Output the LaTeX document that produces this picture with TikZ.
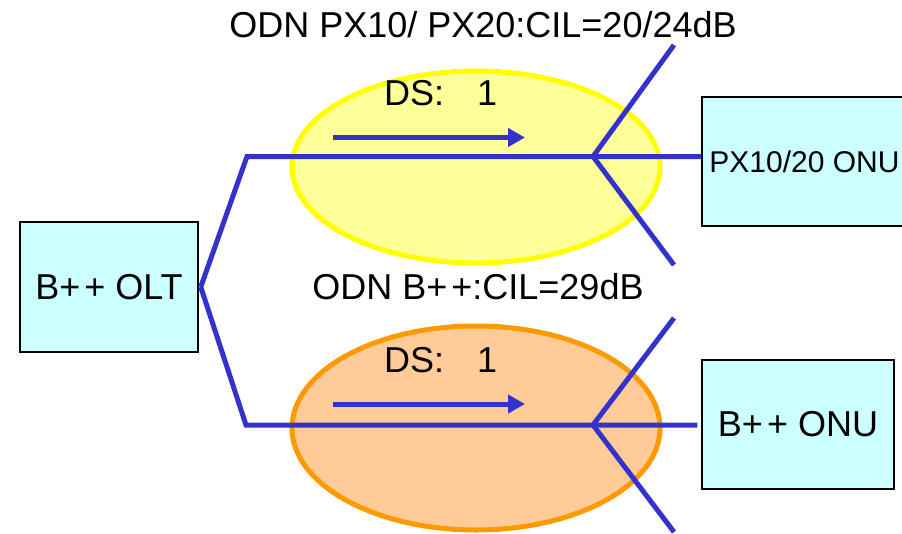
\documentclass[tikz,border=0pt]{standalone}
\usepackage{fontspec}
\setmainfont{Liberation Sans}
\usetikzlibrary{arrows.meta,calc}
\definecolor{boxfill}{HTML}{CCFFFF}
\definecolor{fiber}{HTML}{3333CC}
\definecolor{yelfill}{HTML}{FFFF99}
\definecolor{yelline}{HTML}{FFFF00}
\definecolor{orafill}{HTML}{FFCC99}
\definecolor{oraline}{HTML}{FF9900}
\newcommand{\pp}{+\kern4pt+}
\tikzset{
  unitbox/.style={draw=black,line width=1.5pt,fill=boxfill,inner sep=0pt},
  fiberline/.style={draw=fiber,line width=5pt,line join=miter},
  dsarrow/.style={draw=fiber,line width=5pt,-{Triangle[length=17pt,width=18pt]}},
  lbl/.style={inner sep=0pt,anchor=base},
  odnring/.style={line width=5pt}
}
\begin{document}
\begin{tikzpicture}[x=1pt,y=-1pt]
\useasboundingbox (0,0) rectangle (902,533);
% ellipses
\fill[yelfill] (476,167) ellipse [x radius=184, y radius=96];
\draw[yelline,odnring] (476,167) ellipse [x radius=184, y radius=96];
\fill[orafill] (476,428) ellipse [x radius=184, y radius=102];
\draw[oraline,odnring] (476,428) ellipse [x radius=184, y radius=102];
% boxes
\node[unitbox,minimum width=178pt,minimum height=130pt,font=\fontsize{36}{40}\selectfont] (olt) at (109,287) {B\pp{} OLT};
\node[unitbox,minimum width=205pt,minimum height=129pt,font=\fontsize{30}{34}\selectfont] (onu1) at (804.5,161.5) {PX10/20 ONU};
\node[unitbox,minimum width=192pt,minimum height=129pt,font=\fontsize{36}{40}\selectfont] (onu2) at (798,424.5) {B\pp{} ONU};
% fibre coordinates
\coordinate (k1) at (247,156.5);
\coordinate (k2) at (246,425);
\coordinate (s1) at (593,156.5);
\coordinate (s2) at (593,425);
\coordinate (u1) at (674,45);
\coordinate (d1) at (674,265);
\coordinate (u2) at (674,318);
\coordinate (d2) at (674,532);
\coordinate (a1s) at (333,137.5);
\coordinate (a1e) at (525,137.5);
\coordinate (a2s) at (333,404);
\coordinate (a2e) at (525,404);
% fibres
\draw[fiberline] ($(olt.east)+(2,0)$) -- (k1) -- (k1 -| onu1.west);
\draw[fiberline] ($(olt.east)+(2,0)$) -- (k2) -- ($(k2 -| onu2.west)+(-4,0)$);
\draw[fiberline] (u1) -- (s1) -- (d1);
\draw[fiberline] (u2) -- (s2) -- (d2);
\draw[dsarrow] (a1s) -- (a1e);
\draw[dsarrow] (a2s) -- (a2e);
% labels
\node[lbl,font=\fontsize{36}{40}\selectfont] (t1) at (483,37) {ODN PX10/ PX20:CIL=20/24dB};
\node[lbl,font=\fontsize{36}{40}\selectfont] (t2) at (478,299) {ODN B\pp:CIL=29dB};
\node[lbl,anchor=base west,font=\fontsize{36}{40}\selectfont] (ds1) at (384,105) {DS:\hspace{33pt}1};
\node[lbl,anchor=base west,font=\fontsize{36}{40}\selectfont] (ds2) at (384,372) {DS:\hspace{33pt}1};
\end{tikzpicture}
\end{document}
